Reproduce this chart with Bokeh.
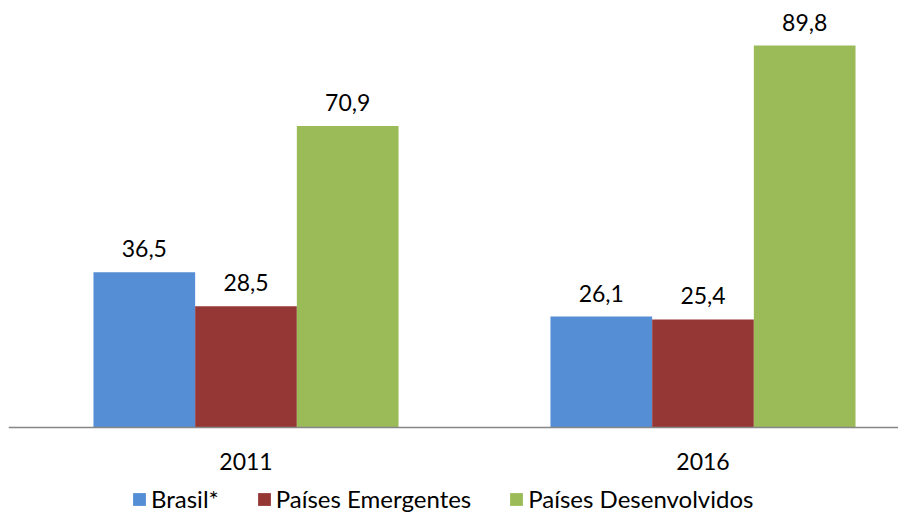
from bokeh.plotting import figure
from bokeh.models import ColumnDataSource, Legend, LegendItem, Range1d, Span
from bokeh.core.properties import value
from bokeh.embed import file_html
from bokeh.resources import INLINE

years = ["2011", "2016"]
series = ["Brasil*", "Países Emergentes", "Países Desenvolvidos"]
brasil = [36.5, 26.1]
emergentes = [28.5, 25.4]
desenvolvidos = [70.9, 89.8]
colors = ["#558ED5", "#953735", "#9BBB59"]

FONT = "Lato"
FS = "23px"
bw = 0.2225
offsets = [-bw, 0.0, bw]

p = figure(width=898, height=513, output_backend="svg", toolbar_location=None,
           x_range=Range1d(-0.5197, 1.4278), y_range=Range1d(-20.2, 98.5),
           min_border_left=8, min_border_right=0, min_border_top=8, min_border_bottom=0)
p.outline_line_color = None
p.xgrid.visible = False
p.ygrid.visible = False
p.xaxis.visible = False
p.yaxis.visible = False

items = []
for vals, off, col, name in zip([brasil, emergentes, desenvolvidos], offsets, colors, series):
    xs = [i + off for i in range(len(years))]
    src = ColumnDataSource(dict(x=xs, top=vals, lab=[f"{v:.1f}".replace(".", ",") for v in vals]))
    r = p.vbar(x="x", top="top", width=bw, bottom=0, source=src, fill_color=col, line_color=None)
    p.text(x="x", y="top", text="lab", source=src, text_align="center", text_baseline="bottom",
           y_offset=-15, text_font=value(FONT), text_font_size=FS, text_color="#000000")
    items.append(LegendItem(label=name, renderers=[r]))

# category axis: baseline line and year labels
p.add_layout(Span(location=0, dimension="width", line_color="#868686", line_width=1.5))
ysrc = ColumnDataSource(dict(x=list(range(len(years))), y=[0] * len(years), t=years))
p.text(x="x", y="y", text="t", source=ysrc, text_align="center", text_baseline="middle",
       y_offset=34, text_font=value(FONT), text_font_size=FS, text_color="#000000")

legend = Legend(items=items, orientation="horizontal", location=(123, 0),
                label_text_font=FONT, label_text_font_size="24px", label_text_color="#000000",
                glyph_width=16, glyph_height=16, spacing=37, label_standoff=4,
                border_line_color=None, background_fill_alpha=0, padding=0, margin=0)
p.add_layout(legend)

open("out.html", "w").write(file_html(p, INLINE))
